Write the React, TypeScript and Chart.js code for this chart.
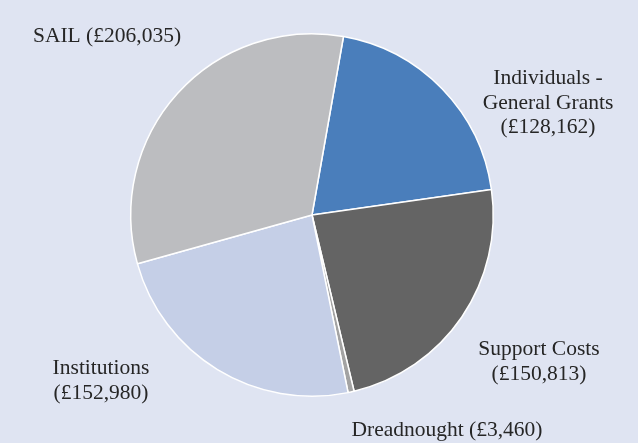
import React, { useEffect, useRef } from "react";
import { Chart, registerables } from "chart.js";

Chart.register(...registerables);

const categories = ["Individuals - General Grants", "Support Costs", "Dreadnought", "Institutions", "SAIL"];
const values = [128162, 150813, 3460, 152980, 206035];
const labelLines = [
  ["Individuals -", "General Grants", "(£128,162)"],
  ["Support Costs", "(£150,813)"],
  ["Dreadnought (£3,460)"],
  ["Institutions", "(£152,980)"],
  ["SAIL (£206,035)"],
];
const colors = ["#4a7ebb", "#646464", "#a3a3a3", "#c5cfe7", "#bcbdc0"];

// label block centres, as offsets from the pie centre (px)
const labelOffsets = [
  [236, -112],
  [227, 147],
  [135, 215],
  [-211, 166],
  [-205, -179],
];

const labelPlugin = {
  id: "outerLabels",
  afterDraw(chart: any) {
    const meta = chart.getDatasetMeta(0);
    const arc = meta.data[0];
    if (!arc) return;
    const cx = arc.x;
    const cy = arc.y;
    const ctx = chart.ctx;
    ctx.save();
    ctx.fillStyle = "#262626";
    ctx.font = "21.5px 'Liberation Serif', 'DejaVu Serif', serif";
    ctx.textAlign = "center";
    ctx.textBaseline = "middle";
    const lh = 24.5;
    labelLines.forEach((lines, i) => {
      const [dx, dy] = labelOffsets[i];
      const x = cx + dx;
      const y0 = cy + dy - ((lines.length - 1) * lh) / 2;
      lines.forEach((t, j) => ctx.fillText(t, x, y0 + j * lh));
    });
    ctx.restore();
  },
};

export default function App() {
  const ref = useRef<HTMLCanvasElement | null>(null);
  useEffect(() => {
    if (!ref.current) return;
    const chart = new Chart(ref.current, {
      type: "pie",
      data: {
        labels: categories,
        datasets: [
          {
            data: values,
            backgroundColor: colors,
            borderColor: "#ffffff",
            borderWidth: 1.5,
          },
        ],
      },
      options: {
        responsive: false,
        animation: false,
        rotation: 10,
        layout: { padding: { top: 33, bottom: 46, left: 0, right: 14 } },
        plugins: {
          legend: { display: false },
          tooltip: { enabled: false },
        },
      },
      plugins: [labelPlugin],
    });
    return () => chart.destroy();
  }, []);
  return (
    <div style={{ position: "fixed", left: 0, top: 0, width: 638, height: 443 }}>
      <canvas ref={ref} width={638} height={443} style={{ display: "block", background: "#dfe4f2" }} />
    </div>
  );
}
